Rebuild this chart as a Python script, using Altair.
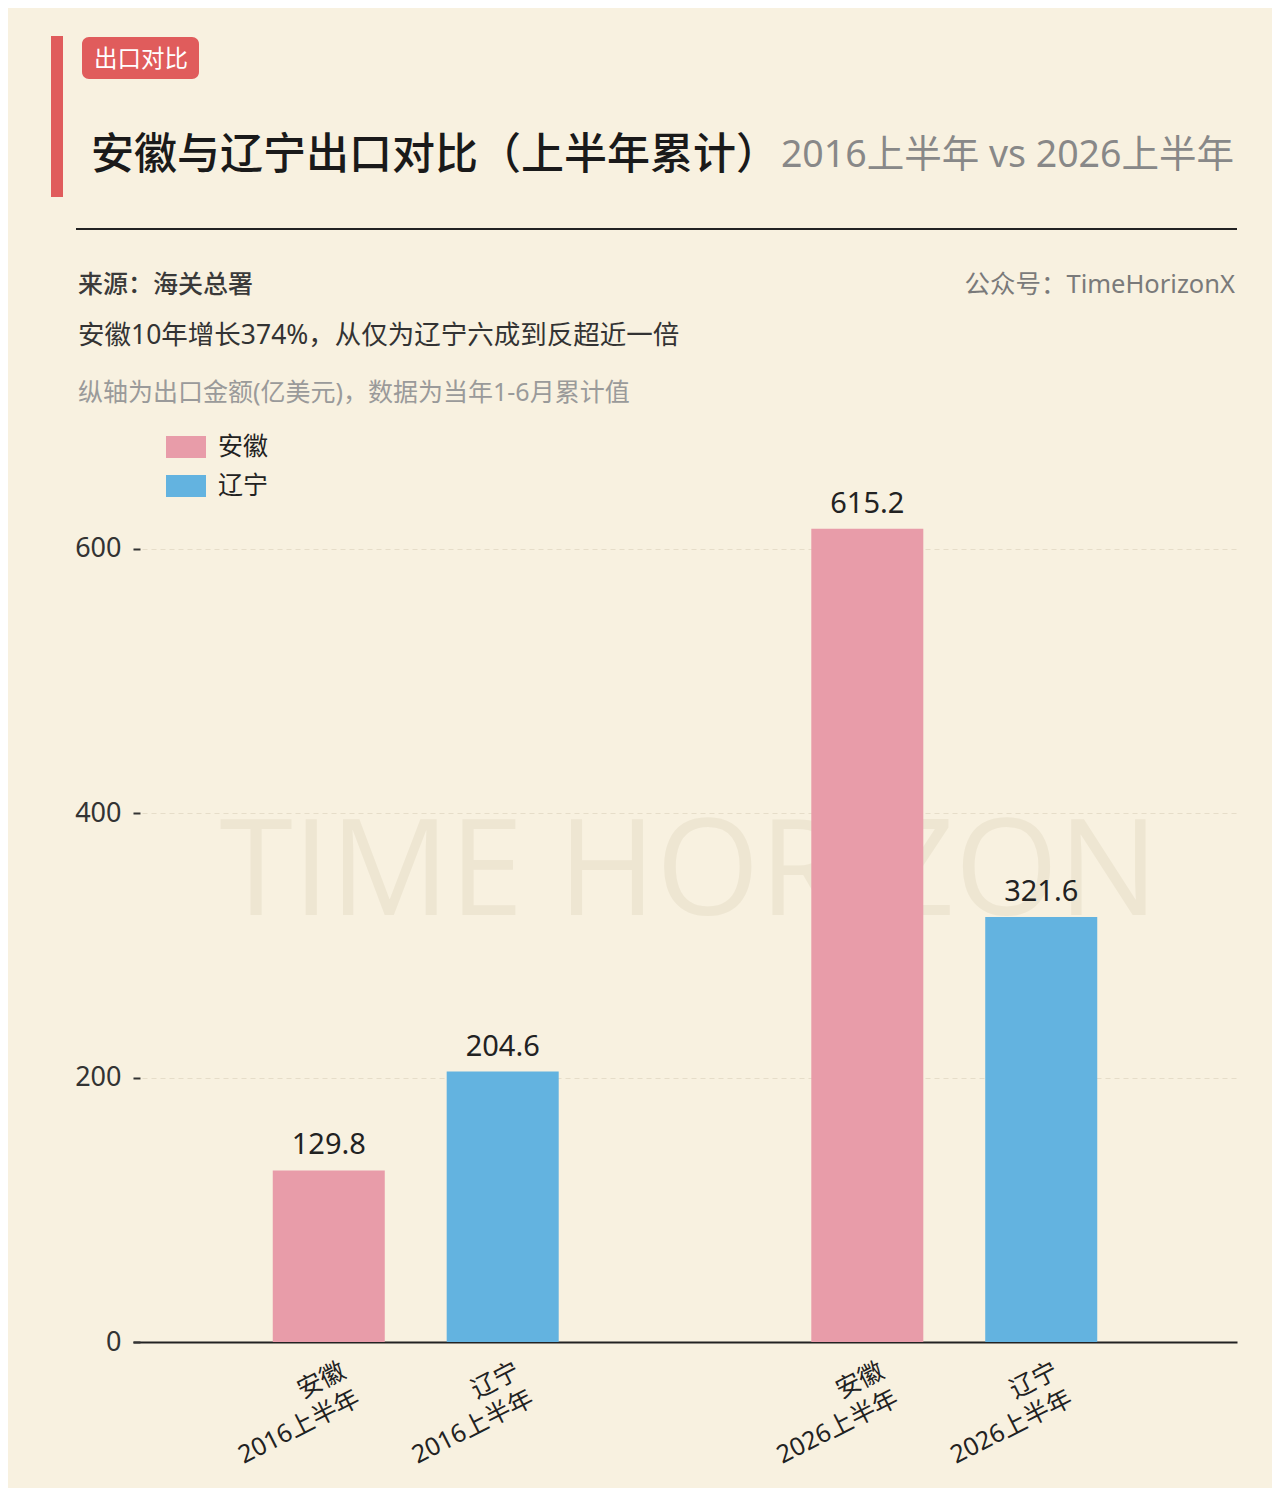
import altair as alt
import pandas as pd

# ---------------- data ----------------
groups = ["2016上半年", "2016上半年", "2026上半年", "2026上半年"]
provinces = ["安徽", "辽宁", "安徽", "辽宁"]
values = [129.8, 204.6, 615.2, 321.6]
value_labels = ["129.8", "204.6", "615.2", "321.6"]
group_order = ["2016上半年", "2026上半年"]
province_order = ["安徽", "辽宁"]
y_ticks = [0, 200, 400, 600]

badge_text = "出口对比"
title_text = "安徽与辽宁出口对比（上半年累计）"
subtitle_text = "2016上半年 vs 2026上半年"
source_text = "来源：海关总署"
account_text = "公众号：TimeHorizonX"
note1_text = "安徽10年增长374%，从仅为辽宁六成到反超近一倍"
note2_text = "纵轴为出口金额(亿美元)，数据为当年1-6月累计值"
watermark_text = "TIME HORIZON"

# ---------------- style ----------------
W, H = 1104, 912
FONT = "Noto Sans, Noto Sans CJK SC"
BG = "#F8F1E0"
PINK = "#E89CA9"
BLUE = "#63B3E0"
RED = "#E05C5C"

df = pd.DataFrame({"group": groups, "province": provinces,
                   "value": values, "label": value_labels})
df["xlabel"] = df["province"] + "\n" + df["group"]

x_enc = alt.X("group:N", sort=group_order,
              scale=alt.Scale(domain=group_order, paddingInner=0.2, paddingOuter=0.125),
              axis=alt.Axis(title=None, labels=False, ticks=False, domain=True,
                            domainColor="#222222", domainWidth=2, grid=False))
xo_enc = alt.XOffset("province:N", sort=province_order,
                     scale=alt.Scale(domain=province_order, paddingInner=0.356, paddingOuter=0.4165))
y_enc = alt.Y("value:Q", scale=alt.Scale(domain=[0, 690], nice=False),
              axis=alt.Axis(title=None, values=y_ticks, domain=False, ticks=True,
                            tickSize=7, tickWidth=2, tickColor="#333333",
                            labelFontSize=27, labelColor="#333333", labelFont=FONT,
                            labelPadding=12, offset=-7, grid=True,
                            gridColor="#E6DDC9", gridDash=[5, 4], gridWidth=1))

base = alt.Chart(df)

one = pd.DataFrame({"t": [0]})


def txt(s, x, y, size, color, align="left", weight="normal", font=FONT, baseline="middle"):
    return alt.Chart(pd.DataFrame({"t": [s]})).mark_text(
        align=align, baseline=baseline, fontSize=size, color=color,
        fontWeight=weight, font=font
    ).encode(text="t:N", x=alt.value(x), y=alt.value(y))


watermark = txt(watermark_text, 556, 445, 133, "#EEE6D2", align="center", font="Open Sans")

bars = base.mark_bar().encode(
    x=x_enc, xOffset=xo_enc, y=y_enc,
    color=alt.Color("province:N", sort=province_order,
                    scale=alt.Scale(domain=province_order, range=[PINK, BLUE]),
                    legend=alt.Legend(title=None, orient="none", legendX=33, legendY=-3,
                                      symbolType="M-1,-0.55H1V0.55H-1Z", symbolSize=1600,
                                      symbolStrokeWidth=0, symbolOpacity=1,
                                      labelFontSize=25, labelFont=FONT, labelColor="#222222",
                                      labelOffset=12, rowPadding=6, padding=0))
)

value_text = base.mark_text(baseline="alphabetic", dy=-16, fontSize=29,
                            font=FONT, color="#222222").encode(
    x=x_enc, xOffset=xo_enc, y=y_enc, text="label:N")

xlabels = base.mark_text(align="right", baseline="top", angle=333, lineBreak="\n",
                         fontSize=25, lineHeight=31, font=FONT, color="#222222",
                         dx=1, dy=19).encode(
    x=x_enc, xOffset=xo_enc, y=alt.value(H), text="xlabel:N")

red_bar = alt.Chart(one).mark_rect(color=RED).encode(
    x=alt.value(-82), x2=alt.value(-70), y=alt.value(-394), y2=alt.value(-233))
badge = alt.Chart(one).mark_rect(color=RED, cornerRadius=7).encode(
    x=alt.value(-51), x2=alt.value(66), y=alt.value(-393), y2=alt.value(-351))
badge_t = txt(badge_text, 8, -370, 23.5, "#FFFFFF", align="center")
title = txt(title_text, -42, -274, 43, "#1A1A1A", weight=500)
subtitle = txt(subtitle_text, 1101, -274, 37.5, "#888888", align="right")
hline = alt.Chart(one).mark_rule(color="#222222", strokeWidth=2).encode(
    x=alt.value(-57), x2=alt.value(1104), y=alt.value(-201))
source = txt(source_text, -55, -145, 25, "#3A3A3A", weight=500)
account = txt(account_text, 1102, -145, 25.5, "#7A7A7A", align="right")
note1 = txt(note1_text, -55, -94, 26.5, "#333333")
note2 = txt(note2_text, -55, -37, 25, "#9A9A9A")

chart = alt.layer(
    watermark, bars, value_text, xlabels,
    red_bar, badge, badge_t, title, subtitle, hline, source, account, note1, note2
).properties(
    width=W, height=H,
    autosize=alt.AutoSizeParams(type="none"),
    padding={"left": 125, "top": 422, "right": 35, "bottom": 146},
    background=BG,
).configure_view(stroke=None)

chart.save("out.html", embed_options={"renderer": "svg", "actions": False})
